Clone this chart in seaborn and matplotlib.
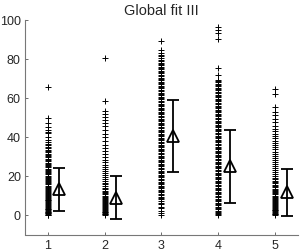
import numpy as np
import pandas as pd
import seaborn as sns
import matplotlib
matplotlib.use('Agg')
import matplotlib.pyplot as plt

# raw values per group (dense parts packed tight)
g1 = [0, 0.2, 0.5, 0.8, 1.1, 1.4, 1.7, 2.1, 2.5, 2.9, 3.3, 3.7, 4.1, 4.6, 5.1, 5.5, 6, 6.4,
      6.9, 7.4, 7.8, 8.3, 8.8, 9.3, 9.8, 10.3, 10.8, 11.3, 11.8, 12.3, 12.9, 13.4, 13.9, 14.5,
      15, 15.6, 16.1, 16.7, 17.2, 17.8, 18.4, 18.9, 19.5, 20.1, 20.7, 21.3, 21.9, 22.5, 23.1,
      23.7, 24.3, 24.9, 25.5, 26.2, 26.8, 27.4, 28.1, 28.7, 29.4, 30, 30.7, 31.4, 32, 32.7,
      33.4, 34.1, 34.8, 35.6, 36.4, 37.3, 38.4, 40.1, 41.8, 42.6, 43.3, 45, 47, 49.5, 65.5]
g2 = [0, 0.3, 0.6, 0.9, 1.3, 1.7, 2.1, 2.5, 2.9, 3.4, 3.9, 4.4, 4.9, 5.4, 5.9, 6.4, 6.9, 7.5,
      8.1, 8.7, 9.3, 9.9, 10.5, 11.1, 11.8, 12.5, 13.2, 13.9, 14.7, 15.6, 16.5, 17.4, 18.4,
      19.3, 20.3, 21.4, 22.4, 23.5, 24.7, 25.8, 27, 28.3, 29.6, 31, 32.6, 34.2, 36, 37.9,
      39.8, 41.6, 43.5, 45.4, 47, 48.6, 50, 51.5, 53, 58.3, 80.5]
g3 = [0, 1, 2.2, 3.5, 4.3, 5.4, 6.3, 7.2, 8, 8.7, 9.4, 10.1, 10.8, 11.5, 12.2, 12.9, 13.6,
      14.3, 15, 15.7, 16.4, 17.1, 17.8, 18.5, 19.2, 19.9, 20.6, 21.3, 22, 22.7, 23.4, 24.1,
      24.8, 25.5, 26.2, 26.9, 27.6, 28.3, 29, 29.7, 30.4, 31.1, 31.8, 32.5, 33.2, 33.9, 34.6,
      35.3, 36, 36.7, 37.4, 38.1, 38.8, 39.5, 40.2, 40.9, 41.6, 42.3, 43, 43.7, 44.4, 45.1,
      45.8, 46.5, 47.2, 47.9, 48.6, 49.3, 50, 50.7, 51.4, 52.1, 52.8, 53.5, 54.2, 54.9, 55.6,
      56.3, 57, 57.7, 58.4, 59.1, 59.8, 60.5, 61.2, 61.9, 62.6, 63.3, 64, 64.7, 65.4, 66.1,
      66.8, 67.5, 68.2, 68.9, 69.6, 70.3, 71, 71.7, 72.4, 73.1, 73.8, 74.5, 75.2, 75.9, 76.6,
      77.3, 78, 78.7, 79.4, 80.2, 81.1, 82, 83, 84.5, 89]
g4 = [0, 0.4, 0.9, 1.5, 2.1, 2.8, 3.5, 4.2, 4.9, 5.6, 6.3, 7, 7.7, 8.4, 9.1, 9.8, 10.5, 11.2,
      11.9, 12.6, 13.3, 14, 14.7, 15.4, 16.1, 16.8, 17.5, 18.2, 18.9, 19.6, 20.3, 21, 21.7,
      22.4, 23.1, 23.8, 24.5, 25.2, 25.9, 26.6, 27.3, 28, 28.7, 29.4, 30.1, 30.8, 31.5, 32.2,
      32.9, 33.6, 34.3, 35, 35.7, 36.4, 37.1, 37.8, 38.5, 39.2, 39.9, 40.6, 41.3, 42, 42.7,
      43.4, 44.1, 44.8, 45.5, 46.2, 46.9, 47.6, 48.3, 49, 49.7, 50.4, 51.1, 51.8, 52.5, 53.2,
      53.9, 54.6, 55.3, 56, 56.7, 57.4, 58.1, 58.8, 59.5, 60.2, 60.9, 61.6, 62.3, 63, 63.7,
      64.4, 65.1, 65.8, 66.5, 67.2, 67.9, 68.6, 69.2, 71.5, 75, 89.8, 93, 94.5, 96]
g5 = [0, 0.3, 0.7, 1.1, 1.5, 1.9, 2.3, 2.7, 3.1, 3.6, 4.1, 4.6, 5.1, 5.6, 6.1, 6.6, 7.1, 7.6,
      8.1, 8.7, 9.3, 9.9, 10.5, 11.1, 11.7, 12.3, 12.9, 13.5, 14.1, 14.8, 15.5, 16.2, 16.9,
      17.6, 18.3, 19, 19.8, 20.8, 21.8, 22.8, 23.8, 24.9, 25.9, 27, 28, 29.1, 30.2, 31.3,
      32.4, 33.5, 34.6, 35.7, 36.8, 38, 39.2, 40.4, 41.6, 42.8, 44, 45.4, 47.6, 49.3, 51,
      52.7, 55, 61.7, 64.3]

groups = [1, 2, 3, 4, 5]
means = [13.2, 8.9, 40.2, 25.0, 11.6]
lows = [2.2, -2.2, 21.8, 6.3, -0.3]
highs = [24.1, 19.9, 58.7, 43.7, 23.6]

df = pd.concat([pd.DataFrame({'group': g, 'value': v})
                for g, v in zip(groups, [g1, g2, g3, g4, g5])], ignore_index=True)

sns.set_style('ticks')
plt.rcParams['font.family'] = ['Liberation Sans', 'DejaVu Sans']

fig = plt.figure(figsize=(3.0, 2.53), dpi=100)
ax = fig.add_axes([25 / 300, 17.5 / 253, 273 / 300, 215 / 253])

sns.scatterplot(data=df, x='group', y='value', marker='+', color='black',
                s=24, linewidth=0.7, ax=ax, legend=False)

m = np.array(means)
ax.errorbar(np.array(groups) + 0.2, m, yerr=[m - np.array(lows), np.array(highs) - m],
            fmt='^', mfc='none', mec='black', mew=1.3, ms=8, color='black',
            elinewidth=1.3, capsize=4.5, capthick=1.3)

ax.set_xlim(0.6, 5.4)
ax.set_ylim(-10, 100)
ax.set_xticks(groups)
ax.set_yticks([0, 20, 40, 60, 80, 100])
ax.set_xlabel('')
ax.set_ylabel('')
ax.set_title('Global fit III', fontsize=10.5, pad=4)
ax.tick_params(direction='in', length=2.5, width=0.6, labelsize=9, color='#555555', pad=3)
for s in ['top', 'right']:
    ax.spines[s].set_visible(False)
for s in ['left', 'bottom']:
    ax.spines[s].set_color('#777777')
    ax.spines[s].set_linewidth(0.8)

fig.savefig('out.png', dpi=100)
